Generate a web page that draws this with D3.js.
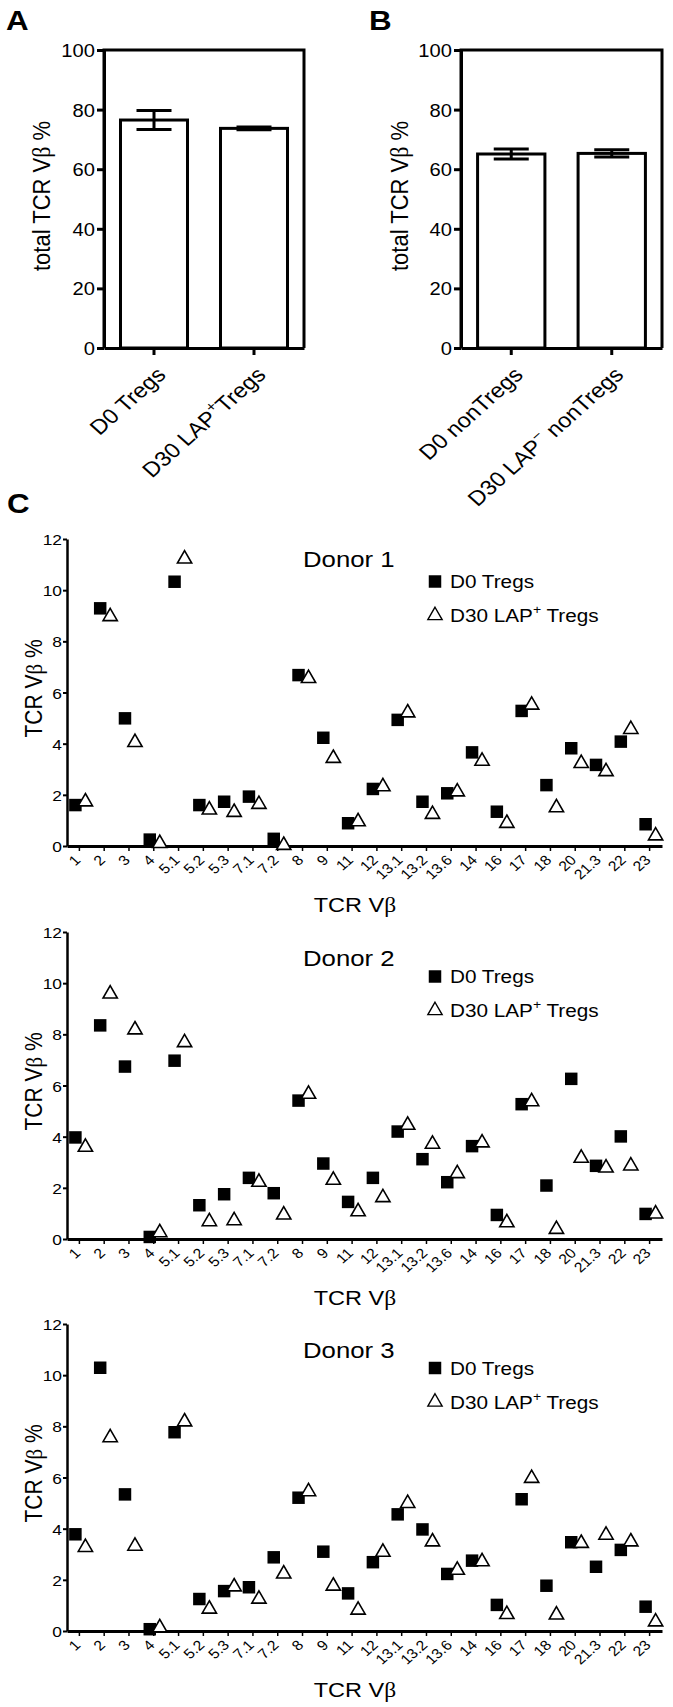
<!DOCTYPE html>
<html><head><meta charset="utf-8">
<script src="https://cdn.jsdelivr.net/npm/d3@7"></script>
<style>
body{margin:0;background:#fff}
svg{display:block}
text{font-family:"Liberation Sans",Arial,sans-serif;fill:#000}
</style>
</head><body>
<svg id="c" width="673" height="1707"></svg>
<script>
// ---------- data ----------
const barGroupsA = ["D0 Tregs", "D30 LAP+Tregs"];
const barMeansA = [76.5, 73.7];
const barErrA = [3.2, 0.5];
const barGroupsB = ["D0 nonTregs", "D30 LAP- nonTregs"];
const barMeansB = [65.1, 65.3];
const barErrB = [1.7, 1.2];
const barTicks = [0, 20, 40, 60, 80, 100];

const vbCategories = ["1","2","3","4","5.1","5.2","5.3","7.1","7.2","8","9","11","12","13.1","13.2","13.6","14","16","17","18","20","21.3","22","23"];
const donorTicks = [0, 2, 4, 6, 8, 10, 12];
const donorNames = ["Donor 1", "Donor 2", "Donor 3"];

const donor1D0  = [1.6, 9.29, 4.99, 0.25, 10.33, 1.6, 1.73, 1.93, 0.28, 6.68, 4.23, 0.89, 2.23, 4.93, 1.73, 2.06, 3.66, 1.34, 5.28, 2.38, 3.82, 3.17, 4.08, 0.85];
const donor1D30 = [1.73, 8.97, 4.05, 0.1, 11.22, 1.41, 1.32, 1.63, 0.03, 6.55, 3.43, 0.95, 2.32, 5.21, 1.24, 2.12, 3.32, 0.89, 5.51, 1.5, 3.23, 2.91, 4.56, 0.4];
const donor2D0  = [3.97, 8.35, 6.74, 0.08, 6.97, 1.32, 1.75, 2.39, 1.79, 5.41, 2.95, 1.45, 2.39, 4.2, 3.12, 2.22, 3.63, 0.94, 5.27, 2.09, 6.26, 2.86, 4.01, 0.98];
const donor2D30 = [3.59, 9.58, 8.18, 0.25, 7.68, 0.68, 0.72, 2.22, 0.94, 5.66, 2.3, 1.07, 1.62, 4.45, 3.71, 2.56, 3.76, 0.64, 5.37, 0.38, 3.16, 2.78, 2.86, 0.98];
const donor3D0  = [3.78, 10.29, 5.34, 0.07, 7.77, 1.25, 1.56, 1.71, 2.88, 5.21, 3.1, 1.47, 2.69, 4.56, 3.97, 2.23, 2.75, 1.02, 5.15, 1.77, 3.47, 2.51, 3.17, 0.95];
const donor3D30 = [3.27, 7.56, 3.32, 0.13, 8.18, 0.86, 1.73, 1.25, 2.23, 5.45, 1.76, 0.82, 3.08, 4.99, 3.49, 2.38, 2.71, 0.65, 5.97, 0.63, 3.43, 3.75, 3.49, 0.36];

// ---------- helpers ----------
const SX = 1.12;
const svg = d3.select("#c");
function tf(x, y, rot) { return `translate(${x},${y}) scale(${SX},1)` + (rot ? ` rotate(${rot})` : ""); }
function rich(textSel, parts, fs) {
  let up = false;
  parts.forEach(p => {
    const ts = textSel.append("tspan").text(p.t);
    if (p.sup) { ts.attr("dy", -0.42 * fs).attr("font-size", fs * 0.68); up = true; }
    else if (up) { ts.attr("dy", 0.42 * fs); up = false; }
  });
  return textSel;
}
function betaLabel(textSel, pre, post) {
  textSel.append("tspan").text(pre);
  textSel.append("tspan").attr("font-family", "'Liberation Serif',serif").text("β");
  if (post) textSel.append("tspan").text(post);
  return textSel;
}

// ---------- bar panels ----------
function barPanel(x0, x1, yTop, yBot, cats, means, errs, labelParts, ylabX) {
  const x = d3.scaleBand().domain(cats).range([x0, x1]).paddingInner(0.33).paddingOuter(0.165);
  const y = d3.scaleLinear().domain([0, 100]).range([yBot, yTop]);
  const g = svg.append("g");
  g.selectAll("rect.bar").data(cats).join("rect").attr("class", "bar")
    .attr("x", d => x(d)).attr("width", x.bandwidth())
    .attr("y", (d, i) => y(means[i])).attr("height", (d, i) => yBot - y(means[i]))
    .attr("fill", "#fff").attr("stroke", "#000").attr("stroke-width", 3);
  const cx = d => x(d) + x.bandwidth() / 2;
  const eb = g.selectAll("g.eb").data(cats).join("g").attr("class", "eb");
  eb.append("line").attr("x1", cx).attr("x2", cx)
    .attr("y1", (d, i) => y(means[i] - errs[i])).attr("y2", (d, i) => y(means[i] + errs[i]))
    .attr("stroke", "#000").attr("stroke-width", 3);
  [-1, 1].forEach(s => {
    eb.append("line").attr("x1", d => cx(d) - 17.5).attr("x2", d => cx(d) + 17.5)
      .attr("y1", (d, i) => y(means[i] + s * errs[i])).attr("y2", (d, i) => y(means[i] + s * errs[i]))
      .attr("stroke", "#000").attr("stroke-width", 3);
  });
  // frame
  g.append("path").attr("d", `M${x0},${yBot}V${yTop}H${x1}V${yBot}`)
    .attr("fill", "none").attr("stroke", "#000").attr("stroke-width", 3);
  const ya = g.append("g").attr("transform", `translate(${x0},0)`)
    .call(d3.axisLeft(y).tickValues(barTicks).tickSize(7).tickSizeOuter(0));
  ya.select(".domain").attr("stroke-width", 3);
  ya.selectAll(".tick line").attr("stroke-width", 3);
  ya.selectAll(".tick text").attr("x", null).attr("dy", null)
    .attr("transform", "translate(-9,6.5) scale(" + SX + ",1)")
    .attr("font-size", 18).attr("font-family", null);
  const xa = g.append("g").attr("transform", `translate(0,${yBot})`)
    .call(d3.axisBottom(x).tickSize(7).tickSizeOuter(0));
  xa.select(".domain").attr("stroke-width", 3);
  xa.selectAll(".tick line").attr("stroke-width", 3);
  xa.selectAll(".tick text").remove();
  cats.forEach((c, i) => {
    const t = g.append("text").attr("text-anchor", "end").attr("font-size", 21)
      .attr("transform", tf(cx(c) + 13, yBot + 28, -45));
    rich(t, labelParts[i], 21);
  });
  const yl = g.append("text").attr("text-anchor", "middle").attr("font-size", 22)
    .attr("transform", tf(ylabX, (yTop + yBot) / 2 - 3, -90));
  betaLabel(yl, "total TCR V", " %");
}

barPanel(104, 304, 50, 348, barGroupsA, barMeansA, barErrA,
  [[{t: "D0 Tregs"}], [{t: "D30 LAP"}, {t: "+", sup: true}, {t: "Tregs"}]], 50);
barPanel(461, 662, 50, 348, barGroupsB, barMeansB, barErrB,
  [[{t: "D0 nonTregs"}], [{t: "D30 LAP"}, {t: "−", sup: true}, {t: " nonTregs"}]], 408);

svg.append("text").attr("font-size", 28).attr("font-weight", "bold").attr("transform", tf(6, 30)).text("A");
svg.append("text").attr("font-size", 28).attr("font-weight", "bold").attr("transform", tf(369, 30)).text("B");
svg.append("text").attr("font-size", 28).attr("font-weight", "bold").attr("transform", tf(7, 513)).text("C");

// ---------- donor scatter panels ----------
const donorD0 = [donor1D0, donor2D0, donor3D0];
const donorD30 = [donor1D30, donor2D30, donor3D30];
const panelTop = [539, 932, 1324];
const panelBot = [846, 1239, 1631];
const titleOff = [28, 34, 34];
const legendOff = [42.5, 44.5, 44];

const sqSym = d3.symbol(d3.symbolSquare, 156)();
const triSym = d3.symbol(d3.symbolTriangle, 88)();

donorNames.forEach((name, k) => {
  const top = panelTop[k], bot = panelBot[k];
  const x = d3.scaleBand().domain(vbCategories).range([67, 662]);
  const y = d3.scaleLinear().domain([0, 12]).range([bot, top]);
  const g = svg.append("g");
  const cx = c => x(c) + x.bandwidth() / 2;

  const ya = g.append("g").attr("transform", `translate(67,0)`)
    .call(d3.axisLeft(y).tickValues(donorTicks).tickSize(4).tickSizeOuter(0));
  ya.select(".domain").attr("stroke-width", 2.5);
  ya.selectAll(".tick line").attr("stroke-width", 2);
  ya.selectAll(".tick text").attr("x", null).attr("dy", null)
    .attr("transform", "translate(-5,5.5) scale(" + SX + ",1)")
    .attr("font-size", 15.5).attr("font-family", null);

  const xa = g.append("g").attr("transform", `translate(0,${bot})`)
    .call(d3.axisBottom(x).tickSize(5).tickSizeOuter(0));
  xa.select(".domain").attr("stroke-width", 3);
  xa.selectAll(".tick line").attr("stroke-width", 1.5);
  xa.selectAll(".tick text").attr("x", null).attr("y", null).attr("dy", null)
    .attr("text-anchor", "end").attr("font-size", 14).attr("font-family", null)
    .attr("transform", "translate(2,15) scale(" + SX + ",1) rotate(-45)");

  g.selectAll("path.d0").data(vbCategories).join("path").attr("class", "d0")
    .attr("d", sqSym).attr("fill", "#000")
    .attr("transform", (c, i) => `translate(${cx(c) - 4},${y(donorD0[k][i])})`);
  g.selectAll("path.d30").data(vbCategories).join("path").attr("class", "d30")
    .attr("d", triSym).attr("fill", "#fff").attr("stroke", "#000").attr("stroke-width", 1.6)
    .attr("transform", (c, i) => `translate(${cx(c) + 6},${y(donorD30[k][i])})`);

  g.append("text").attr("font-size", 23).attr("transform", tf(303, top + titleOff[k])).text(name);

  const ly = top + legendOff[k];
  g.append("path").attr("d", sqSym).attr("transform", `translate(435,${ly})`).attr("fill", "#000");
  g.append("text").attr("font-size", 18.5).attr("transform", tf(450, ly + 6.5)).text("D0 Tregs");
  g.append("path").attr("d", triSym).attr("transform", `translate(435,${ly + 34})`)
    .attr("fill", "#fff").attr("stroke", "#000").attr("stroke-width", 1.4);
  const lt = g.append("text").attr("font-size", 18.5).attr("transform", tf(450, ly + 40.5));
  rich(lt, [{t: "D30 LAP"}, {t: "+", sup: true}, {t: " Tregs"}], 18.5);

  const xl = g.append("text").attr("text-anchor", "middle").attr("font-size", 21)
    .attr("transform", tf(355, bot + 66));
  betaLabel(xl, "TCR V", "");
  const yl = g.append("text").attr("text-anchor", "middle").attr("font-size", 21)
    .attr("transform", tf(42, (top + bot) / 2 - 4, -90));
  betaLabel(yl, "TCR V", " %");
});
</script>
</body></html>
